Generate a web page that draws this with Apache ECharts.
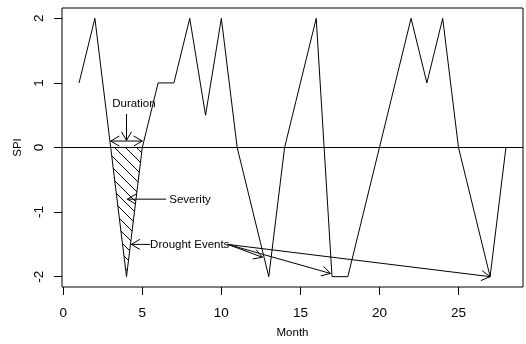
<!DOCTYPE html>
<html>
<head>
<meta charset="utf-8">
<script src="https://cdn.jsdelivr.net/npm/echarts@6/dist/echarts.min.js"></script>
<style>html,body{margin:0;padding:0;background:#fff}#c{width:526px;height:344px}</style>
</head>
<body>
<div id="c"></div>
<script>
// ---- data ----
var months = [1,2,3,4,5,6,7,8,9,10,11,12,13,14,15,16,17,18,19,20,21,22,23,24,25,26,27,28];
var spi    = [1,2,0,-2,0,1,1,2,0.5,2,0,-1,-2,0,1,2,-2,-2,-1,0,1,2,1,2,0,-1,-2,0];
var xTicks = [0,5,10,15,20,25];
var yTicks = [-2,-1,0,1,2];
var droughtMonths = [3,4,5];          // hatched drought event
// annotation arrows: [x0, y0, x1, y1, doubleHeaded]
var arrowData = [
  [4, 0.52, 4, 0.11, 0],
  [3, 0.1, 5, 0.1, 1],
  [6.5, -0.8, 4.05, -0.8, 0],
  [5.5, -1.5, 4.3, -1.5, 0],
  [10.4, -1.5, 12.6, -1.7, 0],
  [10.4, -1.5, 16.9, -1.95, 0],
  [10.4, -1.5, 27, -2, 0]
];
var labelTexts = ['Duration', 'Severity', 'Drought Events'];
var labelX = [4.47, 8.02, 8.0];
var labelY = [0.67, -0.81, -1.51];

// ---- hatch pattern ----
var s = 11;
var pc = document.createElement('canvas');
pc.width = s; pc.height = s;
var g = pc.getContext('2d');
g.strokeStyle = '#000'; g.lineWidth = 1;
g.beginPath();
g.moveTo(-2, -2); g.lineTo(s + 2, s + 2);
g.moveTo(-2, s - 2); g.lineTo(2, s + 2);
g.moveTo(s - 2, -2); g.lineTo(s + 2, 2);
g.stroke();

var font = '"Liberation Sans", Arial, Helvetica, sans-serif';
var chart = echarts.init(document.getElementById('c'), null, {renderer: 'canvas'});

var hatchPts = droughtMonths.map(function (m) { return [m, spi[months.indexOf(m)]]; });
var lineData = months.map(function (m, i) { return [m, spi[i]]; });

function arrowHead(tip, from, len) {
  var a = Math.atan2(tip[1] - from[1], tip[0] - from[0]);
  var d = Math.PI / 6;
  return [
    [tip[0] - len * Math.cos(a - d), tip[1] - len * Math.sin(a - d)],
    tip,
    [tip[0] - len * Math.cos(a + d), tip[1] - len * Math.sin(a + d)]
  ];
}

var option = {
  animation: false,
  backgroundColor: '#fff',
  grid: {left: 62, top: 8, right: 3, bottom: 53, show: true, borderColor: '#000', borderWidth: 1, backgroundColor: 'transparent'},
  xAxis: {
    type: 'value', min: -0.08, max: 29.08,
    splitLine: {show: false},
    axisLine: {show: false, onZero: false},
    axisTick: {show: true, customValues: xTicks, length: 8, lineStyle: {color: '#000'}},
    axisLabel: {customValues: xTicks, color: '#000', fontSize: 13.5, fontFamily: font, margin: 19},
    name: 'Month', nameLocation: 'middle', nameGap: 40,
    nameTextStyle: {color: '#000', fontSize: 11.5, fontFamily: font}
  },
  yAxis: {
    type: 'value', min: -2.16, max: 2.16,
    splitLine: {show: false},
    axisLine: {show: false, onZero: false},
    axisTick: {show: true, customValues: yTicks, length: 8, lineStyle: {color: '#000'}},
    axisLabel: {customValues: yTicks, color: '#000', fontSize: 13.5, fontFamily: font, margin: 16, rotate: 90,
                align: 'center', verticalAlign: 'bottom'},
    name: 'SPI', nameLocation: 'middle', nameGap: 35,
    nameTextStyle: {color: '#000', fontSize: 11.5, fontFamily: font}
  },
  series: [
    {
      type: 'custom', silent: true, z: 1,
      data: [0],
      renderItem: function (params, api) {
        var pts = hatchPts.map(function (p) { return api.coord(p); });
        return {
          type: 'polygon',
          shape: {points: pts},
          style: {fill: {image: pc, repeat: 'repeat'}, stroke: null}
        };
      }
    },
    {
      type: 'line', data: lineData, symbol: 'none', z: 3,
      lineStyle: {color: '#000', width: 1},
      markLine: {
        silent: true, symbol: 'none', label: {show: false},
        lineStyle: {color: '#000', width: 1, type: 'solid'},
        data: [{yAxis: 0}]
      }
    },
    {
      type: 'custom', silent: true, z: 4,
      data: arrowData,
      renderItem: function (params, api) {
        var p0 = api.coord([api.value(0), api.value(1)]);
        var p1 = api.coord([api.value(2), api.value(3)]);
        var st = {stroke: '#000', lineWidth: 1, fill: null};
        var children = [
          {type: 'line', shape: {x1: p0[0], y1: p0[1], x2: p1[0], y2: p1[1]}, style: st},
          {type: 'polyline', shape: {points: arrowHead(p1, p0, 10)}, style: st}
        ];
        if (api.value(4)) {
          children.push({type: 'polyline', shape: {points: arrowHead(p0, p1, 10)}, style: st});
        }
        return {type: 'group', children: children};
      }
    },
    {
      type: 'custom', silent: true, z: 5,
      data: labelTexts.map(function (t, i) { return [labelX[i], labelY[i]]; }),
      renderItem: function (params, api) {
        var p = api.coord([api.value(0), api.value(1)]);
        return {
          type: 'text',
          style: {
            x: p[0], y: p[1], text: labelTexts[params.dataIndex],
            fill: '#000', font: '11.5px ' + font,
            textAlign: 'center', textVerticalAlign: 'middle',
            backgroundColor: 'transparent'
          }
        };
      }
    }
  ]
};
chart.setOption(option);
</script>
</body>
</html>
